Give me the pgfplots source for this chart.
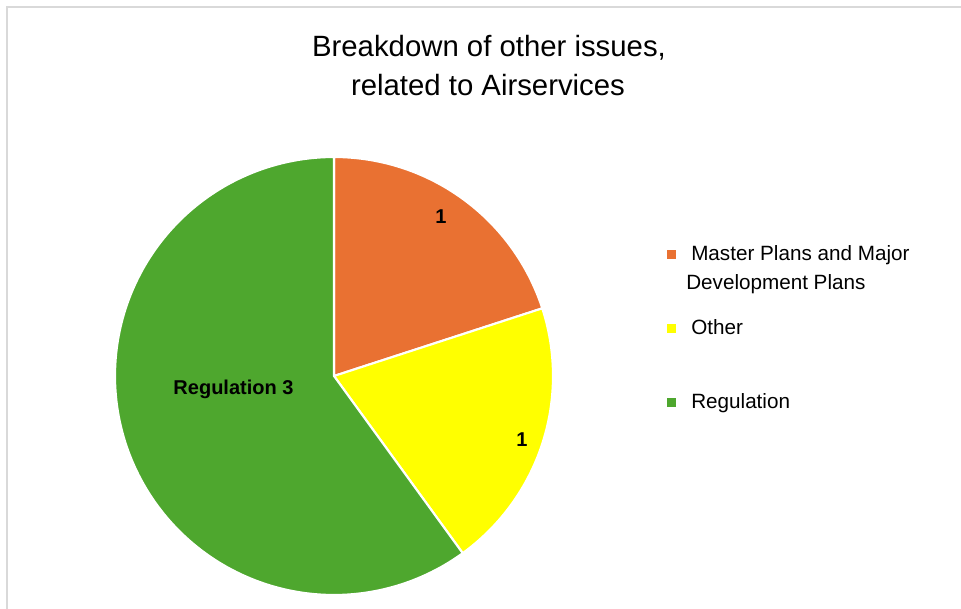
\documentclass[border=0pt]{standalone}
\usepackage{pgfplots}
\pgfplotsset{compat=1.18}
\usepackage{pgfplotstable}
\usepackage{fontspec}
\setmainfont{Liberation Sans}
\definecolor{cOrange}{HTML}{E97132}
\definecolor{cYellow}{HTML}{FFFF00}
\definecolor{cGreen}{HTML}{4EA72E}
\definecolor{cBorder}{HTML}{D9D9D9}

\pgfplotstableread{
name value
Master 1
Other 1
Regulation 3
}\piedata

\begin{document}
\begin{tikzpicture}[x=0.75pt,y=0.75pt]
\pgfplotstablegetelem{0}{value}\of\piedata \pgfmathsetmacro{\vA}{\pgfplotsretval}
\pgfplotstablegetelem{1}{value}\of\piedata \pgfmathsetmacro{\vB}{\pgfplotsretval}
\pgfplotstablegetelem{2}{value}\of\piedata \pgfmathsetmacro{\vC}{\pgfplotsretval}
\pgfmathsetmacro{\tot}{\vA+\vB+\vC}
\pgfmathsetmacro{\aA}{90}
\pgfmathsetmacro{\aB}{90-360*\vA/\tot}
\pgfmathsetmacro{\aC}{\aB-360*\vB/\tot}
\pgfmathsetmacro{\aD}{\aC-360*\vC/\tot}
\useasboundingbox (0,0) rectangle (961,609);
\fill[white] (0,0) rectangle (961,609);
\draw[cBorder, line width=1.6pt] (7,0) -- (7,602) -- (961,602);
\node[anchor=base, inner sep=0pt, font=\fontsize{22}{30}\selectfont] at (489,552) {Breakdown of other issues,};
\node[anchor=base, inner sep=0pt, font=\fontsize{22}{30}\selectfont] at (488,513) {related to Airservices};
\begin{axis}[at={(0,0)}, anchor=south west, scale only axis,
  width=720.75pt, height=456.75pt,
  xmin=0, xmax=961, ymin=0, ymax=609,
  hide axis, clip=false,
  legend image code/.code={\fill[#1, draw=none] (0pt,0.75pt) rectangle (6.75pt,7.5pt);},
  legend cell align=left,
  legend style={at={(axis cs:667,367.7)}, anchor=north west, draw=none, fill=none,
    inner sep=0pt, row sep=0pt,
    font=\fontsize{15.5}{21.75}\selectfont,
    cells={anchor=base west},
    nodes={inner sep=0pt, text height=14pt, text depth=41.5pt}},
]
\addplot[fill=cOrange, draw=white, line width=1.6pt, domain=\aB:\aA, samples=80, variable=\t, forget plot]
  ({334+219*cos(\t)},{233+219*sin(\t)}) -- (334,233) -- cycle;
\addplot[fill=cYellow, draw=white, line width=1.6pt, domain=\aC:\aB, samples=80, variable=\t, forget plot]
  ({334+219*cos(\t)},{233+219*sin(\t)}) -- (334,233) -- cycle;
\addplot[fill=cGreen, draw=white, line width=1.6pt, domain=\aD:\aC, samples=160, variable=\t, forget plot]
  ({334+219*cos(\t)},{233+219*sin(\t)}) -- (334,233) -- cycle;

\addlegendimage{fill=cOrange}
\addlegendentry{\hspace{7.5pt}\parbox[t]{190pt}{\hspace{3.75pt}Master Plans and Major\\Development Plans}}
\addlegendimage{fill=cYellow}
\addlegendentry{\hspace{11.25pt}Other}
\addlegendimage{fill=cGreen}
\addlegendentry{\hspace{11.25pt}Regulation}

\node[inner sep=0pt, font=\bfseries\fontsize{15}{18}\selectfont] at (axis cs:441,392) {1};
\node[inner sep=0pt, font=\bfseries\fontsize{15}{18}\selectfont] at (axis cs:522,169) {1};
\node[anchor=base, inner sep=0pt, font=\bfseries\fontsize{15}{18}\selectfont] at (axis cs:233.5,214) {Regulation 3};
\end{axis}
\end{tikzpicture}
\end{document}
